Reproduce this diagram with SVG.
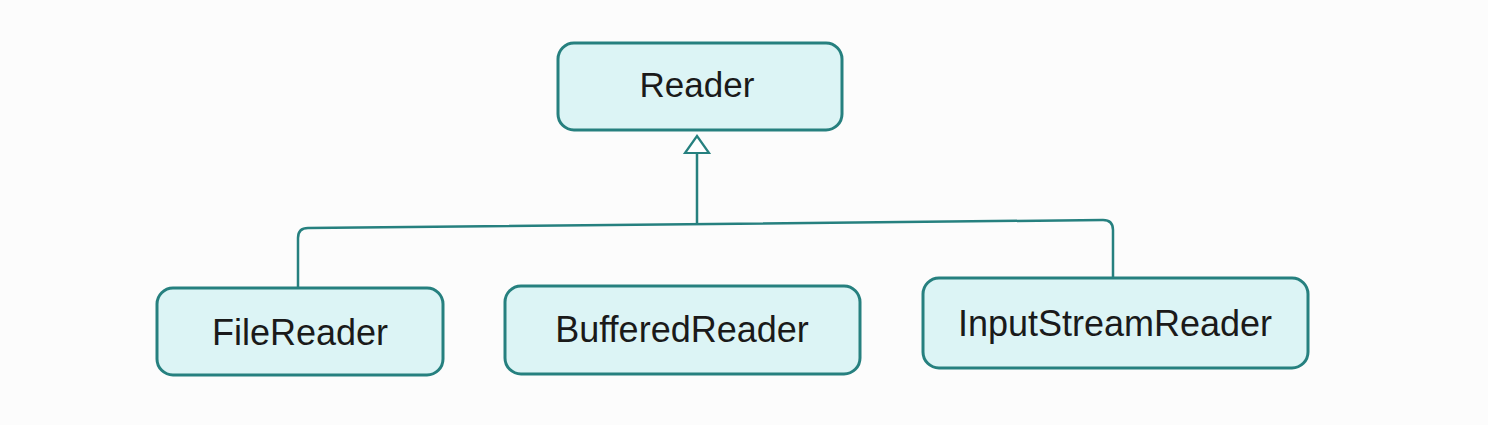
<svg xmlns="http://www.w3.org/2000/svg" width="1488" height="425" viewBox="0 0 1488 425">
<style>
.box{fill:#dcf4f5;stroke:#26807f;stroke-width:3}
.lbl{font-family:"Liberation Sans",Arial,sans-serif;font-size:36px;fill:#1a1a1a;text-anchor:middle}
.conn{fill:none;stroke:#26807f;stroke-width:2.5}
.head{fill:#ffffff;stroke:#26807f;stroke-width:2.2}
</style>
<rect width="1488" height="425" fill="#fcfcfc"/>
<g id="connectors">
<path class="conn" d="M298 288 V238 Q298 228 308 228 L1103 220 Q1113 220 1113 230 V278"/>
<path class="conn" d="M697 224 V153"/>
<path class="head" d="M697 136 L709 153 L685 153 Z"/>
</g>
<g id="reader">
<rect class="box" x="558" y="43" width="284" height="87" rx="16"/>
<text class="lbl" x="697" y="97" style="font-size:35px">Reader</text>
</g>
<g id="filereader">
<rect class="box" x="157" y="288" width="286" height="87" rx="16"/>
<text class="lbl" x="300" y="345">FileReader</text>
</g>
<g id="bufferedreader">
<rect class="box" x="505" y="286" width="355" height="88" rx="16"/>
<text class="lbl" x="682" y="342">BufferedReader</text>
</g>
<g id="inputstreamreader">
<rect class="box" x="923" y="278" width="385" height="90" rx="16"/>
<text class="lbl" x="1115" y="336">InputStreamReader</text>
</g>
</svg>
